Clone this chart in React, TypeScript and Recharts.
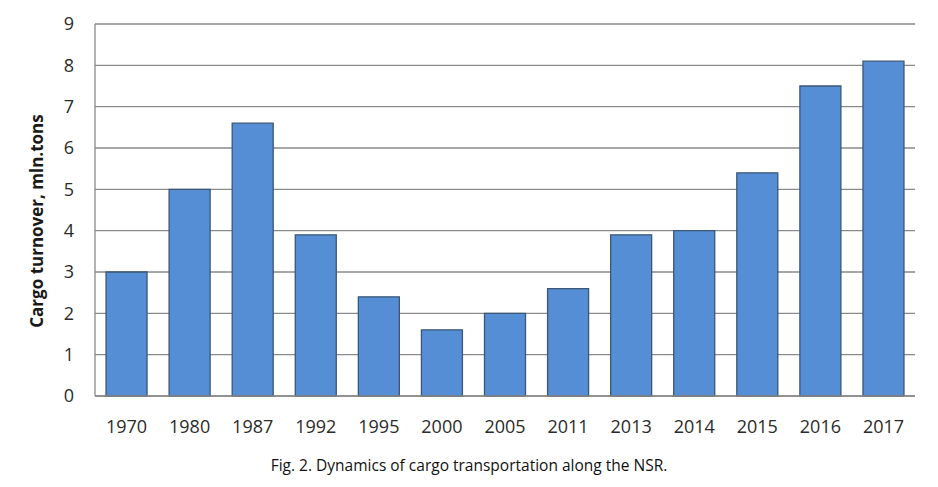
import React from "react";
import { BarChart, Bar, XAxis, YAxis, CartesianGrid } from "recharts";

const years = ["1970", "1980", "1987", "1992", "1995", "2000", "2005", "2011", "2013", "2014", "2015", "2016", "2017"];
const cargo = [3.0, 5.0, 6.6, 3.9, 2.4, 1.6, 2.0, 2.6, 3.9, 4.0, 5.4, 7.5, 8.1];
const yTicks = [0, 1, 2, 3, 4, 5, 6, 7, 8, 9];

const data = years.map((y, i) => ({ year: y, value: cargo[i] }));

const FONT = "'Open Sans', 'Liberation Sans', sans-serif";

const YLabel = (props: any) => {
  const vb = props.viewBox || { x: 0, y: 0, width: 0, height: 0 };
  const cx = vb.x + 28;
  const cy = vb.y + vb.height / 2 + 11;
  return (
    <text
      x={cx}
      y={cy}
      transform={`rotate(-90, ${cx}, ${cy})`}
      textAnchor="middle"
      dominantBaseline="central"
      fontFamily={FONT}
      fontWeight={700}
      fontSize={17}
      fill="#1a1a1a"
    >
      Cargo turnover, mln.tons
    </text>
  );
};

export default function App() {
  return (
    <div style={{ position: "relative", width: 922, height: 468 }}>
      <BarChart
        width={922}
        height={430}
        data={data}
        margin={{ top: 16, right: 15, bottom: 0, left: 0 }}
        barCategoryGap="17.5%"
      >
        <CartesianGrid vertical={false} stroke="#8a8a8a" strokeWidth={1.3} />
        <XAxis
          dataKey="year"
          tickLine={false}
          tickSize={0}
          tickMargin={24}
          axisLine={{ stroke: "#8a8a8a", strokeWidth: 1.3 }}
          tick={{ fontFamily: FONT, fontSize: 18, fill: "#2b2b2b" }}
          interval={0}
          height={42}
        />
        <YAxis
          domain={[0, 9]}
          ticks={yTicks}
          tickLine={false}
          tickSize={0}
          tickMargin={21}
          width={87}
          interval={0}
          axisLine={{ stroke: "#8a8a8a", strokeWidth: 1.3 }}
          tick={{ fontFamily: FONT, fontSize: 18, fill: "#2b2b2b" }}
          label={<YLabel />}
        />
        <Bar
          dataKey="value"
          fill="#558ED5"
          stroke="#3B5676"
          strokeWidth={1.3}
          isAnimationActive={false}
        />
      </BarChart>
      <div
        style={{
          position: "absolute",
          left: 0,
          width: 922,
          top: 447,
          textAlign: "center",
          fontFamily: FONT,
          fontSize: 15.5,
          color: "#111111",
          lineHeight: "20px",
        }}
      >
        Fig. 2. Dynamics of cargo transportation along the NSR.
      </div>
    </div>
  );
}
